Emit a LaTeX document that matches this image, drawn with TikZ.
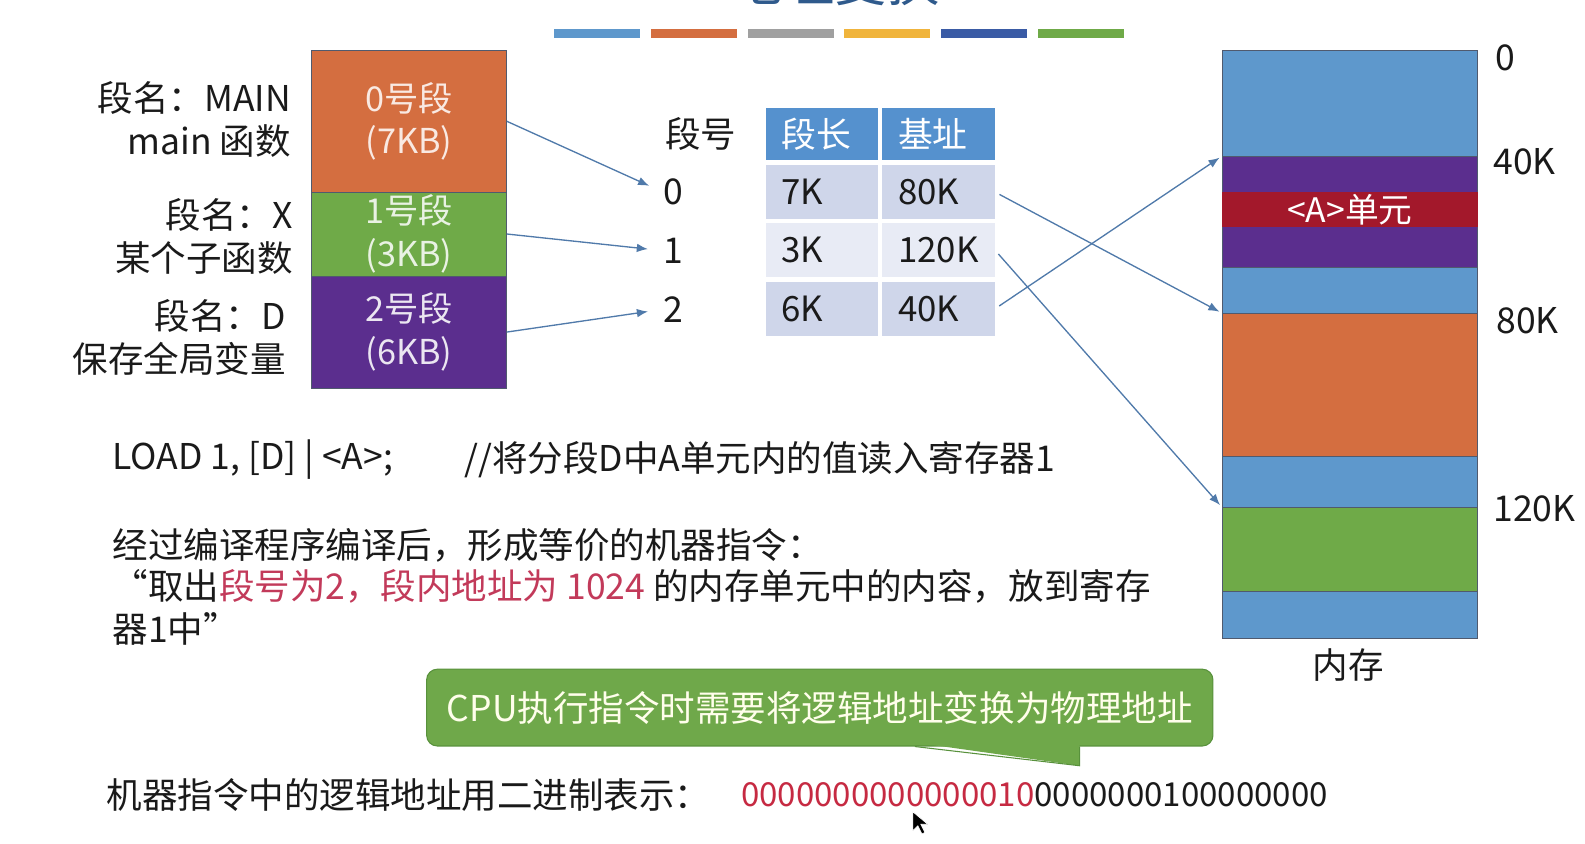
\documentclass[tikz,border=0pt]{standalone}
\usepackage{fontspec}
\setmainfont{Noto Sans CJK SC}
\usetikzlibrary{arrows.meta, calc, positioning}
\definecolor{inkgray}{RGB}{26,26,26}
\definecolor{titleblue}{RGB}{47,90,140}
\definecolor{segorange}{RGB}{212,110,64}
\definecolor{seggreen}{RGB}{111,170,72}
\definecolor{segpurple}{RGB}{91,46,142}
\definecolor{memblue}{RGB}{94,152,204}
\definecolor{cellred}{RGB}{163,24,43}
\definecolor{hdrblue}{RGB}{85,145,206}
\definecolor{rowdark}{RGB}{207,214,234}
\definecolor{rowlight}{RGB}{232,235,245}
\definecolor{linkblue}{RGB}{80,122,170}
\definecolor{callgreen}{RGB}{111,168,74}
\definecolor{callline}{RGB}{88,145,60}
\definecolor{redtxt}{RGB}{194,58,90}
\definecolor{binred}{RGB}{198,42,66}
\definecolor{boxline}{RGB}{80,90,110}
\definecolor{bargold}{RGB}{240,180,60}
\definecolor{bargray}{RGB}{160,160,160}
\definecolor{barnavy}{RGB}{58,91,165}
\colorlet{orangetxt}{segorange!15}
\colorlet{greentxt}{seggreen!15}
\colorlet{purpletxt}{segpurple!12}

\begin{document}
\begin{tikzpicture}[x=0.02cm, y=-0.02cm,
    txt/.style={font=\fontsize{20}{24.4}\selectfont, text=inkgray, inner sep=0pt},
    segbox/.style={draw=boxline, line width=0.5pt, minimum width=3.86cm,
      align=center, inner sep=0pt, font=\fontsize{19.3}{24}\selectfont},
    cell/.style={minimum height=1.08cm, text width=1.6cm, inner xsep=0.31cm,
      inner ysep=0pt, align=left, text=inkgray, font=\fontsize{19.6}{24}\selectfont},
    mem/.style={draw=boxline, line width=0.5pt, minimum width=5.06cm, inner sep=0pt},
    link/.style={linkblue, line width=0.75pt, -{Latex[length=0.22cm, width=0.17cm]}},
    callout/.style={fill=callgreen, draw=callline, line width=0.6pt, rounded corners=6pt,
      text=white!92!yellow, font=\fontsize{20}{24}\selectfont, inner sep=0pt},
  ]
    \clip (0,0) rectangle (1568,834);
    \useasboundingbox (0,0) rectangle (1568,834);

    \node[font=\fontsize{29.5}{30}\selectfont, text=titleblue, anchor=base] (title) at (826,1) {地址变换};
    \foreach \c [count=\i from 0] in {memblue, segorange, bargray, bargold, barnavy, seggreen}
      \fill[\c] (548+\i*95.8,29) rectangle ++(85,9);

    \node[segbox, fill=segorange, text=orangetxt, minimum height=2.8cm] (s0) at (404.5,120) {0号段\\(7KB)};
    \node[segbox, fill=seggreen, text=greentxt, minimum height=1.66cm] (s1) at (404.5,231.5) {1号段\\(3KB)};
    \node[segbox, fill=segpurple, text=purpletxt, minimum height=2.22cm] (s2) at (404.5,328.5) {2号段\\(6KB)};
    \node[txt, anchor=east, align=right] (lmain) at (288,118.5) {段名：MAIN\\main 函数};
    \node[txt, anchor=east, align=right] (lx) at (290,234) {段名：X\\某个子函数};
    \node[txt, anchor=east, align=right] (ld) at (283,334) {段名：D\\保存全局变量};

    \node[txt] (segno) at (693,133) {段号};
    \node[txt] (n0) at (666,190) {0};
    \node[txt] (n1) at (666,248) {1};
    \node[txt] (n2) at (666,306) {2};
    \draw[link, shorten >=0.3cm] (s0.east) -- (n0.west);
    \draw[link, shorten >=0.3cm] (s1.east) -- (n1.west);
    \draw[link, shorten >=0.3cm] (s2.east) -- (n2.west);

    \node[cell, fill=hdrblue, text=white, minimum height=1.02cm] (hlen) at (813,132.5) {段长};
    \node[cell, fill=hdrblue, text=white, minimum height=1.02cm] (hbase) at (928.5,132.5) {基址};
    \node[cell, fill=rowdark] (len0) at (813,190) {7K};
    \node[cell, fill=rowdark] (base0) at (928.5,190) {80K};
    \node[cell, fill=rowlight] (len1) at (813,247.5) {3K};
    \node[cell, fill=rowlight] (base1) at (928.5,247.5) {120K};
    \node[cell, fill=rowdark] (len2) at (813,305.5) {6K};
    \node[cell, fill=rowdark] (base2) at (928.5,305.5) {40K};

    \node[mem, fill=memblue, minimum height=2.1cm] (b0) at (1335.5,102.5) {};
    \node[mem, fill=segpurple, minimum height=2.2cm] (m40) at (1335.5,210) {};
    \node[mem, draw=none, fill=cellred, minimum height=0.7cm, text=white,
      font=\fontsize{19}{22}\selectfont] (cella) at (1335.5,207.5) {<A>单元};
    \node[mem, fill=memblue, minimum height=0.9cm] (b1) at (1335.5,287.5) {};
    \node[mem, fill=segorange, minimum height=2.84cm] (m80) at (1335.5,381) {};
    \node[mem, fill=memblue, minimum height=1.0cm] (b2) at (1335.5,477) {};
    \node[mem, fill=seggreen, minimum height=1.66cm] (m120) at (1335.5,543.5) {};
    \node[mem, fill=memblue, minimum height=0.94cm] (b3) at (1335.5,608.5) {};
    \node[txt, anchor=west] (a0) at (1479,57) {0};
    \node[txt, anchor=west] (a40) at (1477,160) {40K};
    \node[txt, anchor=west] (a80) at (1480,317) {80K};
    \node[txt, anchor=west] (a120) at (1477,503) {120K};
    \node[txt] (memlbl) at (1334,658) {内存};

    \draw[link, shorten <=0.1cm, shorten >=0.05cm] (base0.east) -- (m80.north west);
    \draw[link, shorten <=0.1cm, shorten >=0.05cm] (base1.east) -- (m120.north west);
    \draw[link, shorten <=0.1cm, shorten >=0.05cm] (base2.east) -- (m40.north west);

    \node[txt, anchor=west] (load) at (111,455) {LOAD 1, [D] | <A>;};
    \node[txt, anchor=west] (cmt) at (459,455) {//将分段D中A单元内的值读入寄存器1};
    \node[txt, anchor=west] (l1) at (111,540) {经过编译程序编译后，形成等价的机器指令：};
    \node[txt, anchor=west] (l2) at (111,580) {“取出\textcolor{redtxt}{段号为2，段内地址为 1024} 的内存单元中的内容，放到寄存};
    \node[txt, anchor=west] (l3) at (111,622) {器1中”};

    \node[callout, minimum width=15.56cm, minimum height=1.52cm] (cpu) at (811,700) {CPU执行指令时需要将逻辑地址变换为物理地址};
    \fill[callgreen] ($(cpu.south)+(94,-4)$) -- ($(cpu.south)+(257,19)$) -- ($(cpu.south)+(257,-4)$) -- cycle;
    \draw[callline, line width=0.6pt] ($(cpu.south)+(94,0)$) -- ($(cpu.south)+(257,19)$) -- ($(cpu.south)+(257,0)$);

    \node[txt, anchor=west] (binlbl) at (105,786) {机器指令中的逻辑地址用二进制表示：};
    \node[txt, anchor=west, font=\fontsize{18.6}{24}\selectfont] (bin) at (733,786) {\textcolor{binred}{0000000000000010}0000000100000000};
    \fill[black, draw=white, line width=0.4pt] (903,803) -- ++(0,19) -- ++(5,-5) -- ++(4,8) -- ++(3,-1.5) -- ++(-4,-8) -- ++(7,0) -- cycle;
\end{tikzpicture}
\end{document}
